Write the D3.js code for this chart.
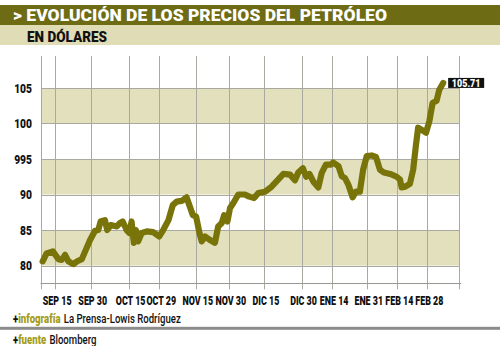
<!DOCTYPE html>
<html>
<head>
<meta charset="utf-8">
<script src="https://cdn.jsdelivr.net/npm/d3@7"></script>
<style>
  body { margin: 0; background: #fff; }
  svg { display: block; }
  text { font-family: Roboto, "Liberation Sans", sans-serif; }
</style>
</head>
<body>
<svg id="chart" width="500" height="346"></svg>
<script>
// Trading-session index of each vertex and the closing price (USD) there
const sessions = [0.5, 1.7, 3.6, 5.3, 6.3, 7.3, 8.3, 9.8, 11.0, 12.4, 13.4, 14.9, 16.4, 17.4, 18.1, 19.4,
  20.1, 21.2, 23.0, 24.0, 24.8, 26.0, 26.8, 27.5, 28.2, 28.8, 29.5, 30.6, 32.1, 34.1, 35.9, 37.1,
  38.7, 40.0, 41.2, 42.7, 44.2, 46.1, 47.1, 48.1, 48.8, 49.8, 51.3, 52.8, 53.8, 54.9, 55.6, 56.6,
  57.4, 58.4, 59.9, 61.9, 63.2, 64.7, 66.0, 68.0, 70.0, 72.0, 73.6, 75.6, 77.1, 78.1, 79.5, 80.5,
  81.5, 82.7, 84.2, 85.2, 86.5, 88.0, 88.7, 90.3, 91.3, 92.3, 93.3, 94.6, 95.6, 96.8, 97.8, 98.9,
  100.4, 101.7, 102.9, 104.1, 106.0, 108.0, 109.0, 109.5, 110.5, 112.0, 113.0, 113.8, 114.5, 115.6,
  116.9, 117.9, 118.9, 120.1, 120.9, 122.1];
const prices = [80.6, 81.7, 82.0, 80.9, 80.8, 81.5, 80.6, 80.2, 80.6, 80.9, 82.0, 83.6, 84.9, 85.0, 86.2, 86.4,
  85.0, 85.7, 85.5, 86.0, 86.2, 85.0, 84.6, 86.2, 83.2, 85.0, 83.4, 84.6, 84.8, 84.7, 84.1, 85.0,
  86.4, 88.5, 89.0, 89.1, 89.6, 87.1, 86.9, 84.6, 83.4, 84.1, 83.6, 83.2, 85.5, 86.0, 87.1, 86.2,
  88.1, 88.8, 90.0, 90.0, 89.7, 89.5, 90.2, 90.4, 91.1, 92.1, 92.9, 92.8, 92.0, 93.1, 93.7, 92.5,
  92.9, 91.8, 91.0, 93.0, 94.2, 94.2, 94.5, 94.0, 92.6, 92.3, 91.4, 89.6, 90.4, 90.4, 93.5, 95.4,
  95.5, 95.3, 93.5, 93.1, 92.9, 92.5, 92.1, 91.0, 91.1, 91.5, 93.5, 96.8, 99.4, 99.1,
  98.7, 100.3, 102.9, 103.2, 104.7, 105.71];

// Date ticks, placed on the session axis
const tickSessions = [4.3, 15.1, 26.6, 35.9, 47.0, 57.0, 67.7, 79.1, 88.4, 98.9, 108.2, 117.3];
const tickLabels = ["SEP 15", "SEP 30", "OCT 15", "OCT 29", "NOV 15", "NOV 30",
  "DIC 15", "DIC 30", "ENE 14", "ENE 31", "FEB 14", "FEB 28"];

// Price ticks and their printed labels
const yTicks = [80, 85, 90, 95, 100, 105];
const yTickLabels = ["80", "85", "90", "995", "100", "105"];
const bands = [[80, 85], [90, 95], [100, 105]];

const title = "> EVOLUCIÓN DE LOS PRECIOS DEL PETRÓLEO";
const subtitle = "EN DÓLARES";

const C = {
  dark: "#6d6b14",
  light: "#dfdcb6",
  band: "#e3e0bd",
  line: "#787409",
  grid: "#a9a9a2",
  accent: "#a39d1c"
};

const svg = d3.select("#chart");

// Header bars
svg.append("rect").attr("x", 0).attr("y", 5).attr("width", 500).attr("height", 20).attr("fill", C.dark);
svg.append("rect").attr("x", 0).attr("y", 25).attr("width", 500).attr("height", 20).attr("fill", C.light);
svg.append("text").attr("x", 13).attr("y", 20.5)
  .attr("textLength", 374).attr("lengthAdjust", "spacingAndGlyphs")
  .attr("fill", "#fff").attr("font-size", 17).attr("font-weight", 900)
  .text(title);
svg.append("text").attr("x", 27).attr("y", 41.8)
  .attr("textLength", 80).attr("lengthAdjust", "spacingAndGlyphs")
  .attr("fill", "#111").attr("font-size", 15).attr("font-weight", 900)
  .text(subtitle);

// Scales
const x = d3.scaleLinear().domain([0, 127]).range([41, 459.3]);
const y = d3.scaleLinear().domain([77.5, 109.5]).range([283.3, 56]);

const plot = svg.append("g");

// Shaded bands
plot.selectAll("rect.band").data(bands).join("rect")
  .attr("class", "band")
  .attr("x", x(0)).attr("width", x(127) - x(0))
  .attr("y", d => y(d[1])).attr("height", d => y(d[0]) - y(d[1]))
  .attr("fill", C.band);

// Horizontal rules at each price tick
plot.selectAll("line.h").data(yTicks).join("line")
  .attr("class", "h")
  .attr("x1", x(0)).attr("x2", x(127))
  .attr("y1", d => Math.round(y(d)) + 0.5).attr("y2", d => Math.round(y(d)) + 0.5)
  .attr("stroke", C.grid).attr("stroke-width", 1);

// Vertical rules: frame edges and date ticks
const vLines = [0, ...tickSessions, 127];
plot.selectAll("line.v").data(vLines).join("line")
  .attr("class", "v")
  .attr("x1", d => Math.round(x(d)) + 0.5).attr("x2", d => Math.round(x(d)) + 0.5)
  .attr("y1", y(109.5)).attr("y2", y(77.5) + 6)
  .attr("stroke", C.grid).attr("stroke-width", 1);

// Baseline
plot.append("line")
  .attr("x1", x(0) - 0.5).attr("x2", x(127) + 2)
  .attr("y1", Math.round(y(77.5)) + 0.5).attr("y2", Math.round(y(77.5)) + 0.5)
  .attr("stroke", "#9a9a94").attr("stroke-width", 1);

// Price line
const pts = sessions.map((s, i) => [s, prices[i]]);
plot.append("path")
  .datum(pts)
  .attr("fill", "none")
  .attr("stroke", C.line)
  .attr("stroke-width", 6.2)
  .attr("stroke-linejoin", "round")
  .attr("stroke-linecap", "round")
  .attr("d", d3.line().x(d => x(d[0])).y(d => y(d[1])));

// Y axis labels
const yAxis = d3.axisLeft(y).tickValues(yTicks).tickSize(0).tickPadding(0)
  .tickFormat((d, i) => yTickLabels[i]);
const yg = svg.append("g").attr("transform", "translate(32,0)").call(yAxis);
yg.select(".domain").remove();
yg.selectAll("text")
  .attr("x", null).attr("dy", null)
  .attr("dominant-baseline", "central")
  .attr("transform", "scale(0.82,1)")
  .attr("font-family", "Roboto, sans-serif")
  .attr("font-size", 12.5).attr("font-weight", 900).attr("fill", "#111");

// X axis labels
const xAxis = d3.axisBottom(x).tickValues(tickSessions).tickSize(0).tickPadding(0)
  .tickFormat((d, i) => tickLabels[i]);
const xg = svg.append("g").attr("transform", "translate(2,296)").call(xAxis);
xg.select(".domain").remove();
xg.selectAll("text")
  .attr("y", 0).attr("dy", null)
  .attr("dominant-baseline", "central")
  .attr("transform", "scale(0.74,1)")
  .attr("font-family", "Roboto, sans-serif")
  .attr("font-size", 12).attr("font-weight", 900).attr("fill", "#111");
xg.selectAll(".tick").attr("transform", d => `translate(${x(d)},5)`);

// End-value tag
const last = pts[pts.length - 1];
const tag = svg.append("g").attr("transform", `translate(${x(last[0]) + 5},${y(last[1])})`);
tag.append("rect").attr("x", 0).attr("y", -5).attr("width", 36).attr("height", 10).attr("fill", "#111");
tag.append("text").attr("x", 18).attr("y", 0.3)
  .attr("text-anchor", "middle").attr("dominant-baseline", "central")
  .attr("transform", "translate(18,0) scale(0.78,1) translate(-18,0)")
  .attr("font-size", 11.5).attr("font-weight", 900).attr("fill", "#fff")
  .text(d3.format(".2f")(last[1]));

// Credits
const credit1 = svg.append("text").attr("x", 13).attr("y", 323.5).attr("font-size", 12);
credit1.append("tspan").attr("font-weight", 900).attr("fill", "#111").text("+");
credit1.append("tspan").attr("font-weight", 900).attr("fill", C.accent).text("infografía");
credit1.append("tspan").attr("dx", 4).attr("font-weight", 500).attr("fill", "#111").text("La Prensa-Lowis Rodríguez");
credit1.attr("transform", "translate(13,0) scale(0.8,1) translate(-13,0)");

svg.append("rect").attr("x", 0).attr("y", 326.8).attr("width", 500).attr("height", 3).attr("fill", "#8c8c8c");

const credit2 = svg.append("text").attr("x", 13).attr("y", 344).attr("font-size", 12);
credit2.append("tspan").attr("font-weight", 900).attr("fill", "#111").text("+");
credit2.append("tspan").attr("font-weight", 900).attr("fill", C.accent).text("fuente");
credit2.append("tspan").attr("dx", 4).attr("font-weight", 500).attr("fill", "#111").text("Bloomberg");
credit2.attr("transform", "translate(13,0) scale(0.8,1) translate(-13,0)");
</script>
</body>
</html>
